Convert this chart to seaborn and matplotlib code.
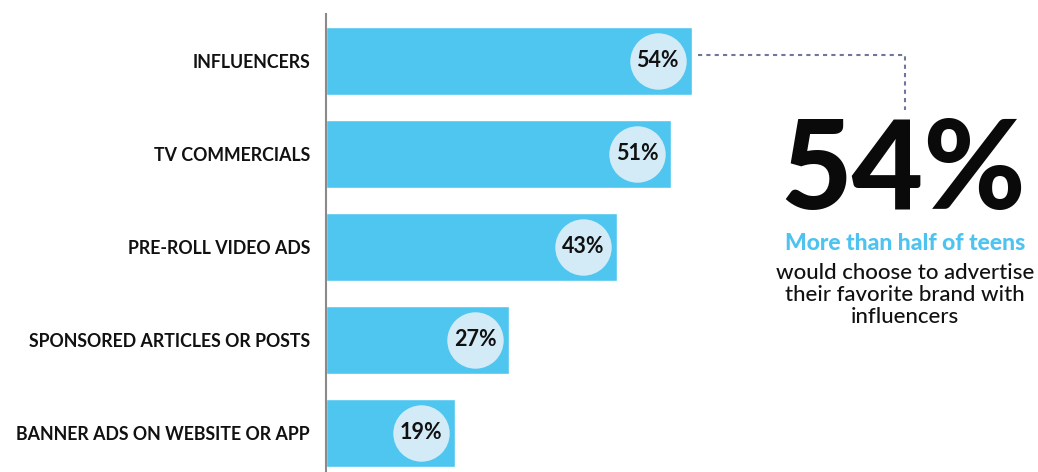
import numpy as np
import pandas as pd
import seaborn as sns
from matplotlib import pyplot as plt

# data
channels = ["INFLUENCERS", "TV COMMERCIALS", "PRE-ROLL VIDEO ADS",
            "SPONSORED ARTICLES OR POSTS", "BANNER ADS ON WEBSITE OR APP"]
shares = [54, 51, 43, 27, 19]
pct_labels = ["54%", "51%", "43%", "27%", "19%"]

bar_blue = "#4ec6f0"
circle_blue = "#d3ebf7"

sns.set_style("white")
plt.rcParams['font.family'] = ['Lato', 'DejaVu Sans']

df = pd.DataFrame({"channel": channels, "share": shares})

W, H = 1038, 472
fig = plt.figure(figsize=(W / 100, H / 100), dpi=100)
ax = fig.add_axes([326 / W, 0, 1 - 326 / W, 1 - 14 / H])

sns.barplot(data=df, y="channel", x="share", orient="h", color=bar_blue,
            width=0.73, saturation=1, ax=ax)

ax.set_xlim(0, (W - 326) / 6.77)
ax.set_ylim(4.42, -0.505)
ax.set_xlabel("")
ax.set_ylabel("")
ax.set_xticks([])
ax.tick_params(axis="y", length=0, pad=11.5, labelsize=12.8)
for lab in ax.get_yticklabels():
    lab.set_fontweight("bold")
    lab.set_color("#111111")
for s in ["top", "right", "bottom"]:
    ax.spines[s].set_visible(False)
ax.spines["left"].set_color("#8a8a8a")
ax.spines["left"].set_linewidth(1.5)

# circles with percentage labels near the bar ends
ypos = np.arange(len(shares))
xc = np.array(shares) - 5.0
ax.scatter(xc, ypos, s=1650, color=circle_blue, zorder=3, linewidths=0)
for x, y, t in zip(xc, ypos, pct_labels):
    ax.text(x, y, t, ha="center", va="center", fontsize=15.5,
            fontweight="bold", color="#111111", zorder=4)

# dotted connector
x0 = shares[0] + 6 / 6.77
x1 = (905 - 326) / 6.77
ax.plot([x0, x1, x1], [-0.065, -0.065, 0.53], ls=(0, (2, 2)),
        color="#6b7899", lw=1.5, clip_on=False)

# callout
fig.text(903 / W, 1 - 173 / H, "54%", ha="center", va="center",
         fontsize=89, fontweight="black", color="#0a0a0a")
fig.text(905 / W, 1 - 244 / H, "More than half of teens", ha="center",
         va="center", fontsize=16.5, fontweight="black", color="#4fc3ef")
fig.text(905 / W, 1 - 295 / H,
         "would choose to advertise\ntheir favorite brand with\ninfluencers",
         ha="center", va="center", fontsize=16, fontweight="medium",
         color="#111111", linespacing=1.1)

plt.savefig("out.png", dpi=100)
